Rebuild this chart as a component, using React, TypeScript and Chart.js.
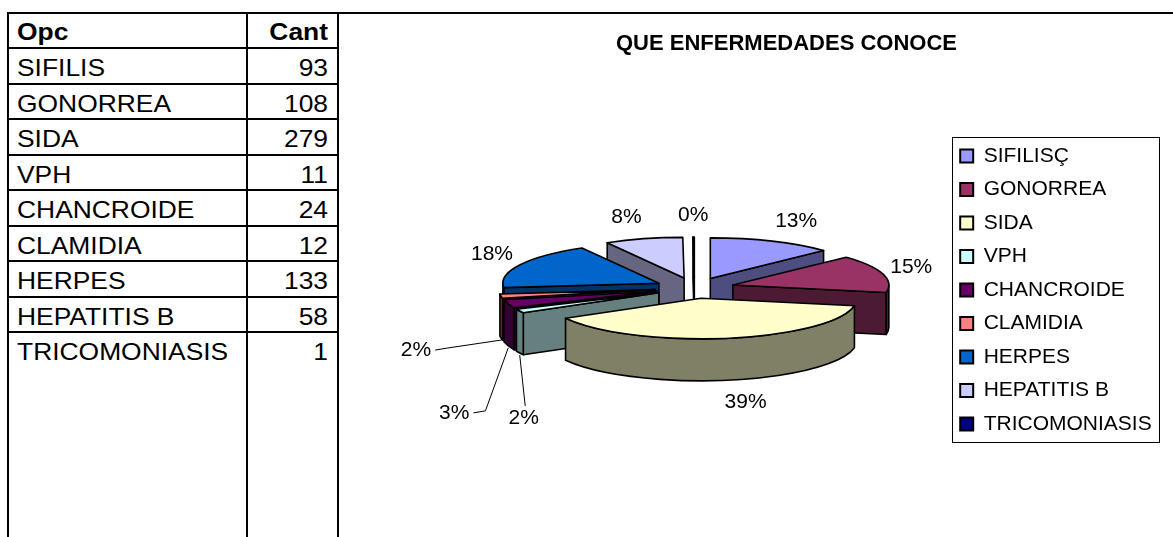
import React, { useEffect, useRef } from 'react';
import { Chart, registerables } from 'chart.js';

Chart.register(...registerables);

// ---------- data ----------
const tableLabels = ['SIFILIS', 'GONORREA', 'SIDA', 'VPH', 'CHANCROIDE', 'CLAMIDIA', 'HERPES', 'HEPATITIS B', 'TRICOMONIASIS'];
const legendLabels = ['SIFILISÇ', 'GONORREA', 'SIDA', 'VPH', 'CHANCROIDE', 'CLAMIDIA', 'HERPES', 'HEPATITIS B', 'TRICOMONIASIS'];
const counts = [93, 108, 279, 11, 24, 12, 133, 58, 1];
const tableHeader = ['Opc', 'Cant'];
const chartTitle = 'QUE ENFERMEDADES CONOCE';

// ---------- style ----------
const topColors = ['#9999FF', '#993366', '#FFFFCC', '#CCFFFF', '#660066', '#FF8080', '#0066CC', '#CCCCFF', '#000080'];
const sideColors = ['#4D4D80', '#4D1A33', '#808066', '#668080', '#330033', '#804040', '#003366', '#666680', '#000040'];
// label displacement (relative to slice rim) for small slices that use leader lines
const labelNudges: (null | [number, number])[] = [null, null, null, [4, 65], [-54, 67], [-85, 12], null, null, null];

const FONT = "'Liberation Sans', Arial, Helvetica, sans-serif";
const TILT = 0.26;
const DEPTH = 42;
const EXPLODE = 40;
const PIE_RADIUS = 156;
const PIE_SHIFT_X = 15;
const PIE_SHIFT_Y = -2;

const total = counts.reduce((a, b) => a + b, 0);
const pctLabels = counts.map((v) => Math.round((v / total) * 100) + '%');

const pie3d = {
  id: 'pie3d',
  beforeDatasetsDraw(chart: any) {
    const ctx = chart.ctx as CanvasRenderingContext2D;
    const meta = chart.getDatasetMeta(0);
    const arcs = meta.data as any[];
    if (!arcs.length) return false;
    const cx = arcs[0].x + PIE_SHIFT_X;
    const cy = arcs[0].y + PIE_SHIFT_Y;
    const rx = arcs[0].outerRadius;
    const ry = rx * TILT;
    const info = arcs.map((el: any, i: number) => {
      const a0 = el.startAngle;
      const a1 = el.endAngle;
      const mid = (a0 + a1) / 2;
      return {
        el, i, a0, a1, mid,
        ax: cx + EXPLODE * Math.cos(mid),
        ay: cy + EXPLODE * TILT * Math.sin(mid),
      };
    });
    const pt = (s: any, ang: number): [number, number] => [s.ax + rx * Math.cos(ang), s.ay + ry * Math.sin(ang)];
    const order = [...info].sort((p, q) => Math.sin(p.mid) - Math.sin(q.mid));

    ctx.save();
    ctx.lineJoin = 'round';
    ctx.strokeStyle = '#000';
    ctx.lineWidth = 1.6;
    for (const s of order) {
      const side = sideColors[s.i];
      const face = (ang: number) => {
        const [px, py] = pt(s, ang);
        ctx.beginPath();
        ctx.moveTo(s.ax, s.ay);
        ctx.lineTo(px, py);
        ctx.lineTo(px, py + DEPTH);
        ctx.lineTo(s.ax, s.ay + DEPTH);
        ctx.closePath();
        ctx.fillStyle = side;
        ctx.fill();
        ctx.stroke();
      };
      if (Math.cos(s.a0) < 0) face(s.a0);
      if (Math.cos(s.a1) > 0) face(s.a1);
      const w0 = Math.max(s.a0, 0);
      const w1 = Math.min(s.a1, Math.PI);
      if (w1 > w0) {
        ctx.beginPath();
        ctx.ellipse(s.ax, s.ay, rx, ry, 0, w0, w1, false);
        const [ex, ey] = pt(s, w1);
        ctx.lineTo(ex, ey + DEPTH);
        ctx.ellipse(s.ax, s.ay + DEPTH, rx, ry, 0, w1, w0, true);
        ctx.closePath();
        ctx.fillStyle = side;
        ctx.fill();
        ctx.stroke();
      }
      // top face, drawn by the Chart.js arc element itself, squashed into an ellipse
      ctx.save();
      ctx.translate(s.ax, s.ay);
      ctx.scale(1, TILT);
      ctx.translate(-s.el.x, -s.el.y);
      s.el.draw(ctx);
      ctx.restore();
      ctx.beginPath();
      ctx.moveTo(s.ax, s.ay);
      ctx.ellipse(s.ax, s.ay, rx, ry, 0, s.a0, s.a1, false);
      ctx.closePath();
      ctx.stroke();
    }

    // percentage labels
    ctx.font = `21px ${FONT}`;
    ctx.fillStyle = '#000';
    ctx.textAlign = 'center';
    ctx.textBaseline = 'middle';
    ctx.lineWidth = 1;
    for (const s of info) {
      const txt = pctLabels[s.i];
      const hw = ctx.measureText(txt).width / 2;
      const c = Math.cos(s.mid);
      const sn = Math.sin(s.mid);
      let [px, py] = pt(s, s.mid);
      if (sn > 0) py += DEPTH;
      const nudge = labelNudges[s.i];
      if (nudge) {
        const lx = px + nudge[0];
        const ly = py + nudge[1];
        ctx.beginPath();
        if (nudge[0] < -20) {
          ctx.moveTo(lx + hw + 4, ly);
          ctx.lineTo(lx + hw + 16, ly - 2);
        } else {
          ctx.moveTo(lx + 1.5, ly - 12);
        }
        ctx.lineTo(px, py + 2);
        ctx.stroke();
        ctx.fillText(txt, lx, ly);
      } else {
        const lx = px + Math.sign(c) * (hw * Math.min(1, 5 * Math.abs(c)) + 8 * Math.abs(c));
        const ly = py + 22 * sn;
        ctx.fillText(txt, lx, ly);
      }
    }
    ctx.restore();
    return false;
  },
};

const legendFrame = {
  id: 'legendFrame',
  afterDraw(chart: any) {
    const hb = chart.legend && chart.legend.legendHitBoxes;
    if (!hb || !hb.length) return;
    const ctx = chart.ctx as CanvasRenderingContext2D;
    const left = Math.min(...hb.map((h: any) => h.left)) - 8;
    const right = Math.max(...hb.map((h: any) => h.left + h.width)) + 7;
    const top = hb[0].top - 8.5;
    const last = hb[hb.length - 1];
    const bottom = last.top + last.height + 7.5;
    ctx.save();
    ctx.strokeStyle = '#000';
    ctx.lineWidth = 1;
    ctx.strokeRect(Math.round(left) + 0.5, Math.round(top) + 0.5, Math.round(right - left), Math.round(bottom - top));
    ctx.restore();
  },
};

const ROW_H = 35.5;
const FIRST_LINE = 47;

export default function App() {
  const ref = useRef<HTMLCanvasElement>(null);

  useEffect(() => {
    if (!ref.current) return;
    const chart = new Chart(ref.current, {
      type: 'pie',
      data: {
        labels: legendLabels,
        datasets: [
          {
            data: counts,
            backgroundColor: topColors,
            borderWidth: 0,
            offset: 0,
            hoverOffset: 0,
            radius: PIE_RADIUS,
          } as any,
        ],
      },
      options: {
        animation: false,
        responsive: false,
        events: [],
        layout: { padding: { left: 71.3, right: 11.3, top: 0, bottom: 77 } },
        plugins: {
          tooltip: { enabled: false },
          title: {
            display: true,
            text: chartTitle,
            color: '#000',
            font: { family: FONT, size: 22, weight: 'bold', lineHeight: 1.2 },
            padding: { top: 16.8, bottom: 62.8 },
          },
          legend: {
            position: 'right',
            fullSize: false,
            align: 'center',
            labels: {
              color: '#000',
              font: { family: FONT, size: 21 },
              boxWidth: 13,
              boxHeight: 13,
              padding: 12.5,
              generateLabels: (ch: any) =>
                (ch.data.labels as string[]).map((t, i) => ({
                  text: t,
                  fillStyle: (ch.data.datasets[0].backgroundColor as string[])[i],
                  strokeStyle: '#000',
                  lineWidth: 2,
                  fontColor: '#000',
                  hidden: false,
                  index: i,
                })),
            },
          },
        },
      } as any,
      plugins: [pie3d, legendFrame],
    });
    return () => chart.destroy();
  }, []);

  const line = (left: number, top: number, width: number, height: number, key: string) => (
    <div key={key} style={{ position: 'absolute', left, top, width, height, background: '#000' }} />
  );

  const cellText: React.CSSProperties = {
    position: 'absolute',
    fontSize: 24,
    lineHeight: '24px',
    height: 24,
    color: '#000',
    whiteSpace: 'nowrap',
    transform: 'scaleX(1.1)',
  };
  const leftText: React.CSSProperties = { ...cellText, left: 17, transformOrigin: 'left center' };
  const rightText: React.CSSProperties = { ...cellText, left: 208, width: 120, textAlign: 'right', transformOrigin: 'right center' };

  return (
    <div
      style={{
        position: 'absolute',
        left: 0,
        top: 0,
        width: 1173,
        height: 537,
        overflow: 'hidden',
        background: '#fff',
        fontFamily: FONT,
      }}
    >
      {line(7, 12, 1166, 2, 'top')}
      {line(7, 12, 2, 525, 'l')}
      {line(246, 12, 2, 525, 'm')}
      {line(337, 12, 2, 525, 'r')}
      {tableLabels.map((_, i) => line(7, Math.round(FIRST_LINE + ROW_H * i), 332, 2, 'h' + i))}
      <div style={{ ...leftText, top: 20, fontWeight: 'bold' }}>{tableHeader[0]}</div>
      <div style={{ ...rightText, top: 20, fontWeight: 'bold' }}>{tableHeader[1]}</div>
      {tableLabels.map((lab, i) => (
        <React.Fragment key={lab}>
          <div style={{ ...leftText, top: 56 + ROW_H * i }}>{lab}</div>
          <div style={{ ...rightText, top: 56 + ROW_H * i }}>{counts[i]}</div>
        </React.Fragment>
      ))}
      <div style={{ position: 'absolute', left: 340, top: 14, width: 833, height: 523 }}>
        <canvas ref={ref} width={833} height={523} style={{ display: 'block' }} />
      </div>
    </div>
  );
}
